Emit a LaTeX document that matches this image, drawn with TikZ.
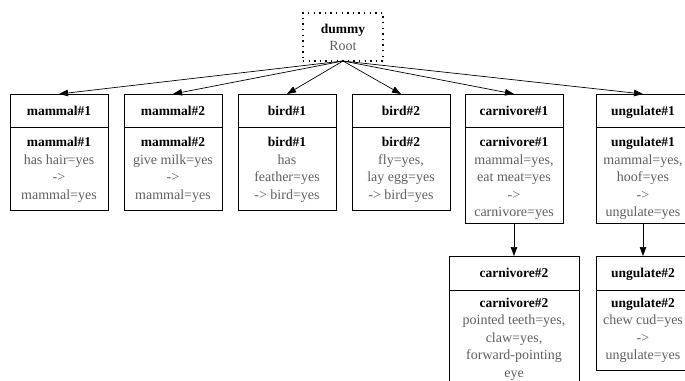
\documentclass[tikz,border=0pt]{standalone}
\usepackage{fontspec}
\setmainfont{Liberation Serif}
\usetikzlibrary{arrows.meta}
\definecolor{bodygray}{RGB}{95,95,95}
\tikzset{
  rec/.style={draw=black, line width=0.7pt, rectangle, inner sep=0pt, outer sep=0pt},
  rootbox/.style={rec, line width=1.1pt, dash pattern=on 1.4pt off 4.2pt},
  hd/.style={font=\fontsize{13.5}{16}\selectfont\bfseries, text=black, inner sep=0pt, anchor=base},
  tx/.style={font=\fontsize{14}{17}\selectfont, text=bodygray, inner sep=0pt, anchor=base},
  link/.style={draw=black, line width=0.7pt, -{Triangle[length=9pt,width=6.5pt]}},
  divider/.style={draw=black, line width=0.7pt},
}
% gray body lines of a record, one per entry, starting at a baseline
\newcommand\reclines[3]{%
  \foreach \ln [count=\k from 0] in {#3} {\node[tx] at (#1,#2+17.5*\k) {\ln};}%
}
\begin{document}
\begin{tikzpicture}[x=1pt,y=-1pt]
\clip (0,0) rectangle (685,380);

% root
\node[rootbox, minimum width=80pt, minimum height=48pt] (root) at (343,37) {};
\node[hd] (rootname) at (343,33.5) {dummy};
\node[tx] (roottxt) at (343,50) {Root};

% first row of records
\node[rec, minimum width=98pt, minimum height=116pt] (m1) at (59,152) {};
\node[rec, minimum width=98pt, minimum height=116pt] (m2) at (173,152) {};
\node[rec, minimum width=98pt, minimum height=116pt] (b1) at (287,152) {};
\node[rec, minimum width=98pt, minimum height=116pt] (b2) at (401,152) {};
\node[rec, minimum width=98pt, minimum height=129pt] (c1) at (514,158.5) {};
\node[rec, minimum width=94pt, minimum height=129pt] (u1) at (643,158.5) {};

% second row of records
\node[rec, minimum width=130pt, minimum height=140pt] (c2) at (514,326) {};
\node[rec, minimum width=94pt, minimum height=114pt] (u2) at (643,313) {};

% header dividers
\foreach \n in {m1,m2,b1,b2,c1,u1} {\draw[divider] (\n.west |- 0,127) -- (\n.east |- 0,127);}
\foreach \n in {c2,u2} {\draw[divider] (\n.west |- 0,290) -- (\n.east |- 0,290);}

% headers
\node[hd] at (59,115.5) {mammal\#1};
\node[hd] at (173,115.5) {mammal\#2};
\node[hd] at (287,115.5) {bird\#1};
\node[hd] at (401,115.5) {bird\#2};
\node[hd] at (514,115.5) {carnivore\#1};
\node[hd] at (643,115.5) {ungulate\#1};
\node[hd] at (514,277.5) {carnivore\#2};
\node[hd] at (643,277.5) {ungulate\#2};

% bodies
\node[hd] at (59,146.5) {mammal\#1};
\reclines{59}{164}{{has hair=yes},{->},{mammal=yes}}
\node[hd] at (173,146.5) {mammal\#2};
\reclines{173}{164}{{give milk=yes},{->},{mammal=yes}}
\node[hd] at (287,146.5) {bird\#1};
\reclines{287}{164}{{has},{feather=yes},{-> bird=yes}}
\node[hd] at (401,146.5) {bird\#2};
\reclines{401}{164}{{fly=yes,},{lay egg=yes},{-> bird=yes}}
\node[hd] at (514,146.5) {carnivore\#1};
\reclines{514}{164}{{mammal=yes,},{eat meat=yes},{->},{carnivore=yes}}
\node[hd] at (643,146.5) {ungulate\#1};
\reclines{643}{164}{{mammal=yes,},{hoof=yes},{->},{ungulate=yes}}
\node[hd] at (514,307.5) {carnivore\#2};
\reclines{514}{324.8}{{pointed teeth=yes,},{claw=yes,},{forward-pointing},{eye}}
\node[hd] at (643,307.5) {ungulate\#2};
\reclines{643}{324.8}{{chew cud=yes},{->},{ungulate=yes}}

% connectors
\foreach \n in {m1,m2,b1,b2,c1,u1} {\draw[link] (root.south) -- (\n.north);}
\draw[link] (c1.south) -- (c2.north);
\draw[link] (u1.south) -- (u2.north);
\end{tikzpicture}
\end{document}
